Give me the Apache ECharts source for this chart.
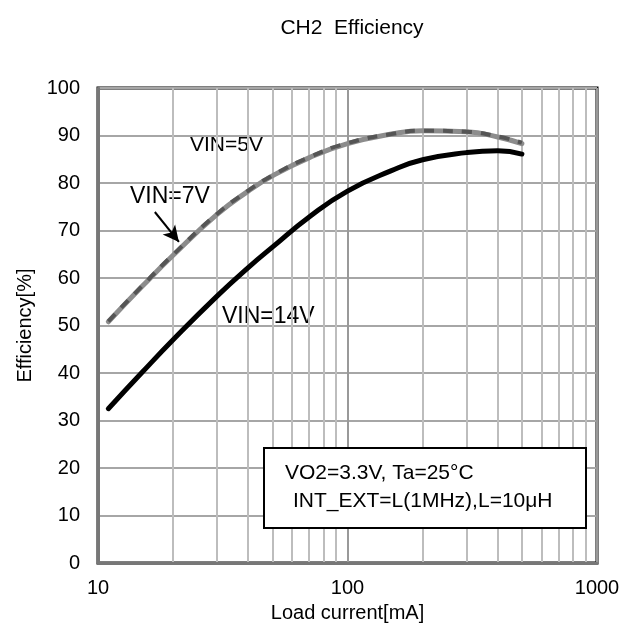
<!DOCTYPE html>
<html>
<head>
<meta charset="utf-8">
<script src="https://cdn.jsdelivr.net/npm/echarts@6/dist/echarts.min.js"></script>
<style>
  html, body { margin: 0; padding: 0; background: #fff; }
  #chart { width: 638px; height: 628px; }
</style>
</head>
<body>
<div id="chart"></div>
<script>
// load current [mA]
const loadCurrent = [11, 15, 20, 30, 40, 50, 70, 100, 150, 200, 300, 400, 500]
// efficiency [%]
const vin5 = [50.8, 58.2, 64.8, 73.4, 78.3, 81.5, 85.3, 88.3, 90.3, 91.0, 90.8, 89.7, 88.3]
const vin7 = [50.9, 58.3, 64.9, 73.5, 78.4, 81.6, 85.4, 88.4, 90.3, 91.0, 90.8, 89.8, 88.5]
const vin14 = [32.5, 40.1, 47.0, 56.2, 62.2, 66.5, 72.8, 78.3, 82.6, 84.9, 86.4, 86.8, 86.1]
const xTicks = [10, 100, 1000]

const FONT = "'Liberation Sans', Arial, sans-serif"
const chart = echarts.init(document.getElementById("chart"), null, { renderer: "canvas" })

const pairs = (ys) => loadCurrent.map((x, i) => [x, ys[i]])

chart.setOption({
  animation: false,
  title: {
    text: "CH2  Efficiency",
    left: 347,
    top: 13,
    textAlign: "center",
    textStyle: { fontFamily: FONT, fontSize: 21, fontWeight: "normal", color: "#000" }
  },
  grid: {
    left: 98,
    right: 41,
    top: 88,
    bottom: 61,
    show: true,
    borderColor: "#000",
    borderWidth: 3
  },
  xAxis: {
    type: "log",
    logBase: 10,
    min: xTicks[0],
    max: xTicks[xTicks.length - 1],
    name: "Load current[mA]",
    nameLocation: "middle",
    nameGap: 34,
    nameTextStyle: { fontFamily: FONT, fontSize: 20, color: "#000" },
    axisLine: { lineStyle: { color: "#777", width: 3 } },
    axisTick: { show: false },
    axisLabel: {
      fontFamily: FONT, fontSize: 20, color: "#000", margin: 15,
      formatter: (v) => String(Math.round(v))
    },
    splitLine: { lineStyle: { color: "#999", width: 2 } },
    minorTick: { show: false, splitNumber: 9 },
    minorSplitLine: { show: true, lineStyle: { color: "#bdbdbd", width: 2 } }
  },
  yAxis: {
    type: "value",
    min: 0,
    max: 100,
    interval: 10,
    name: "Efficiency[%]",
    nameLocation: "middle",
    nameGap: 62,
    nameTextStyle: { fontFamily: FONT, fontSize: 20, color: "#000" },
    axisLine: { show: true, lineStyle: { color: "#777", width: 3 } },
    axisTick: { show: false },
    axisLabel: { fontFamily: FONT, fontSize: 20, color: "#000", margin: 18 },
    splitLine: { lineStyle: { color: "#a6a6a6", width: 2 } }
  },
  series: [
    {
      name: "VIN=14V",
      type: "line",
      data: pairs(vin14),
      smooth: 0.5,
      showSymbol: false,
      lineStyle: { color: "#000", width: 5, cap: "round" }
    },
    {
      name: "VIN=5V",
      type: "line",
      data: pairs(vin5),
      smooth: 0.5,
      showSymbol: false,
      lineStyle: { color: "#8c8c8c", width: 5, cap: "round" }
    },
    {
      name: "VIN=7V",
      type: "line",
      data: pairs(vin7),
      smooth: 0.5,
      showSymbol: false,
      lineStyle: { color: "#555", width: 4, type: [10, 9] },
      markLine: {
        silent: true,
        symbol: ["none", "arrow"],
        symbolSize: [12, 16],
        label: { show: false },
        lineStyle: { color: "#000", width: 2, type: "solid" },
        data: [[{ coord: [16.9, 73.9] }, { coord: [21.1, 67.6] }]]
      }
    }
  ],
  graphic: [
    {
      type: "text", left: 190, top: 135,
      style: { text: "VIN=5V", font: "21px " + FONT, fill: "#000" }
    },
    {
      type: "text", left: 130, top: 185,
      style: { text: "VIN=7V", font: "23px " + FONT, fill: "#000" }
    },
    {
      type: "text", left: 222, top: 305,
      style: { text: "VIN=14V", font: "23px " + FONT, fill: "#000" }
    },
    {
      type: "rect", left: 263, top: 447, z: 10,
      shape: { width: 322, height: 80 },
      style: { fill: "#fff", stroke: "#000", lineWidth: 2 }
    },
    {
      type: "text", left: 285, top: 463, z: 11,
      style: { text: "VO2=3.3V, Ta=25°C", font: "21px " + FONT, fill: "#000" }
    },
    {
      type: "text", left: 293, top: 491, z: 11,
      style: { text: "INT_EXT=L(1MHz),L=10μH", font: "21px " + FONT, fill: "#000" }
    }
  ]
})
</script>
</body>
</html>
